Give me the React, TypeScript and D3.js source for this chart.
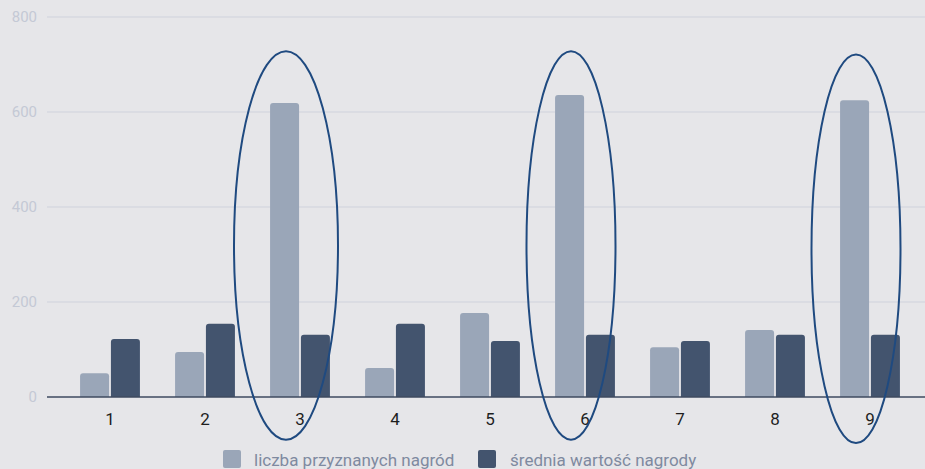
import React, { useEffect, useRef } from "react";
import * as d3 from "d3";

const categories = ["1", "2", "3", "4", "5", "6", "7", "8", "9"];
const seriesNames = ["liczba przyznanych nagród", "średnia wartość nagrody"];
const awardsCount = [50, 95, 619, 61, 177, 636, 105, 141, 625];
const avgValue = [122, 154, 131, 154, 118, 131, 118, 131, 131];
const yTicks = [0, 200, 400, 600, 800];
const highlighted = ["3", "6", "9"];

const W = 925;
const H = 469;

export default function App() {
  const ref = useRef<SVGSVGElement | null>(null);

  useEffect(() => {
    document.body.style.margin = "0";
    const svg = d3.select(ref.current);
    svg.selectAll("*").remove();

    const colors = ["#9aa6b8", "#43546e"];
    const plotLeft = 47;
    const y = d3.scaleLinear().domain([0, 800]).range([397, 17]);
    const x = d3.scaleBand().domain(categories).range([62.5, 917.5]).paddingInner(0.37).paddingOuter(0.185);
    const inner = d3.scaleBand().domain(["a", "b"]).range([0, x.bandwidth()]).paddingInner(0.06);

    svg.append("rect").attr("width", W).attr("height", H).attr("fill", "#e6e6e9");

    const font = "Roboto, 'Noto Sans', sans-serif";

    // grid
    svg.append("g").selectAll("line").data(yTicks.filter((t) => t !== 0)).join("line")
      .attr("x1", plotLeft).attr("x2", W)
      .attr("y1", (d) => y(d)).attr("y2", (d) => y(d))
      .attr("stroke", "#cfd2dc").attr("stroke-width", 1);

    svg.append("g").selectAll("text").data(yTicks).join("text")
      .attr("x", 37).attr("y", (d) => y(d)).attr("dy", "0.35em")
      .attr("text-anchor", "end").attr("font-family", font).attr("font-size", 15)
      .attr("fill", "#c4c9d5").text((d) => String(d));

    const roundedTop = (x0: number, y0: number, w: number, h: number, r: number) => {
      r = Math.min(r, h, w / 2);
      return `M${x0},${y0 + h}V${y0 + r}Q${x0},${y0} ${x0 + r},${y0}H${x0 + w - r}Q${x0 + w},${y0} ${x0 + w},${y0 + r}V${y0 + h}Z`;
    };

    const series = [awardsCount, avgValue];
    series.forEach((vals, si) => {
      svg.append("g").selectAll("path").data(categories).join("path")
        .attr("d", (c, i) => {
          const bx = (x(c) as number) + (inner(si === 0 ? "a" : "b") as number);
          const top = y(vals[i]);
          return roundedTop(bx, top, inner.bandwidth(), y(0) - top, 3);
        })
        .attr("fill", colors[si]);
    });

    // baseline
    svg.append("line").attr("x1", plotLeft).attr("x2", W)
      .attr("y1", y(0)).attr("y2", y(0)).attr("stroke", "#3e4a5f").attr("stroke-width", 1.5);

    svg.append("g").selectAll("text").data(categories).join("text")
      .attr("x", (c) => (x(c) as number) + x.bandwidth() / 2)
      .attr("y", 419).attr("dy", "0.35em").attr("text-anchor", "middle")
      .attr("font-family", font).attr("font-size", 17).attr("fill", "#1e1e1e")
      .text((c) => c);

    // ellipses
    const ellTop = [728, 728, 721];
    const ellBottom = [-90, -90, -97];
    svg.append("g").selectAll("ellipse").data(highlighted).join("ellipse")
      .attr("cx", (c) => (x(c) as number) + x.bandwidth() / 2 - 14)
      .attr("cy", (c, i) => (y(ellTop[i]) + y(ellBottom[i])) / 2)
      .attr("rx", (c, i) => (i === 0 ? 52 : 44.5))
      .attr("ry", (c, i) => (y(ellBottom[i]) - y(ellTop[i])) / 2)
      .attr("fill", "none").attr("stroke", "#1f4a80").attr("stroke-width", 2);

    // legend
    const legendItems = [
      { x: 223, tx: 254 },
      { x: 478, tx: 510 },
    ];
    const lg = svg.append("g");
    legendItems.forEach((it, i) => {
      lg.append("rect").attr("x", it.x).attr("y", 450).attr("width", 18).attr("height", 18)
        .attr("rx", 2).attr("fill", colors[i]);
      lg.append("text").attr("x", it.tx).attr("y", 460).attr("dy", "0.35em")
        .attr("font-family", font).attr("font-size", 17).attr("fill", "#7f8aa0")
        .text(seriesNames[i]);
    });
  }, []);

  return <svg ref={ref} width={W} height={H} style={{ display: "block" }} />;
}
